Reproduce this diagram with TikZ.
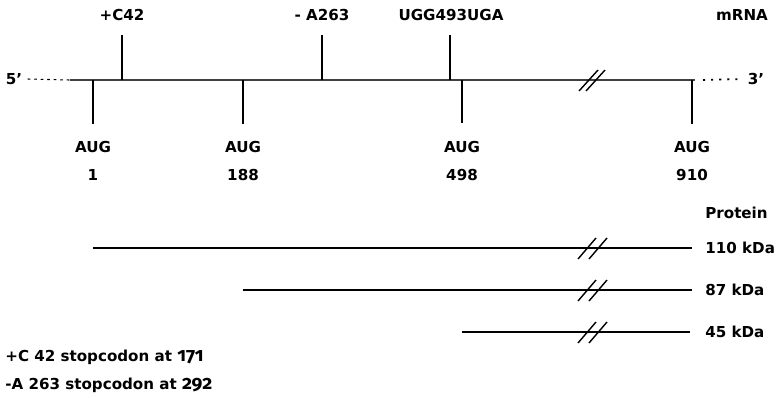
\documentclass[tikz,border=0pt]{standalone}
\usepackage{fontspec}
\setmainfont{DejaVu Sans}
\newfontfamily\oldfig{Fira Sans}[Numbers=OldStyle]
\usetikzlibrary{positioning, calc}

\begin{document}
\begin{tikzpicture}[x=0.02cm, y=-0.02cm,
    lbl/.style={inner sep=0pt, font=\fontsize{8.6}{10}\selectfont\bfseries},
    rna/.style={draw=black!75, line width=0.6pt},
    tick/.style={draw=black, line width=1.1pt},
    prot/.style={draw=black, line width=0.7pt},
    brk/.style={draw=black, line width=0.8pt}]
    \useasboundingbox (0,0) rectangle (776,397);

    % mRNA line
    \node [lbl] (five) at (14,79) {5'};
    \node [lbl] (three) at (756,79) {3'};
    \node [lbl] (mrna) at (742,15) {mRNA};
    \coordinate (r0) at (70,80);
    \coordinate (r1) at (695,80);
    \draw [rna, draw=black, dash pattern=on 1.5pt off 2.2pt] (five.east) ++(3pt,0) -- (r0);
    \draw [rna] (r0) -- (r1);
    \draw [draw=black, line width=1pt, dash pattern=on 1.2pt off 3.4pt] (r1) ++(8,0) -- ($(three.west)+(-3pt,0)$);
    \draw [brk] (579,91) -- (598,70);
    \draw [brk] (586,91) -- (605,70);

    % Mutations
    \node [lbl] (c42) at (122,15) {+C42};
    \node [lbl] (a263) at (322,15) {- A263};
    \node [lbl] (ugg) at (451,15) {UGG493UGA};
    \draw [tick] (122,80) coordinate (t1) -- (122,35);
    \draw [tick] (322,80) coordinate (t2) -- (322,35);
    \draw [tick] (450,80) coordinate (t3) -- (450,35);

    % Start codons
    \node [lbl] (aug1) at (93,147) {AUG};
    \node [lbl] (aug2) at (243,147) {AUG};
    \node [lbl] (aug3) at (462,147) {AUG};
    \node [lbl] (aug4) at (692,147) {AUG};
    \node [lbl] (n1) at (93,175) {1};
    \node [lbl] (n2) at (243,175) {188};
    \node [lbl] (n3) at (462,175) {498};
    \node [lbl] (n4) at (692,175) {910};
    \draw [tick] (93,80) -- (93,124);
    \draw [tick] (243,80) -- (243,124);
    \draw [tick] (462,80) -- (462,123);
    \draw [tick] (692,80) -- (692,124);

    % Proteins
    \node [lbl, anchor=west] (prot) at (705,213) {Protein};
    \node [lbl, anchor=west] (p110) at (705,248) {110 kDa};
    \node [lbl, anchor=west] (p87) at (705,290) {87 kDa};
    \node [lbl, anchor=west] (p45) at (705,332) {45 kDa};
    \draw [prot] (93,248) -- (692,248);
    \draw [prot] (243,290) -- (692,290);
    \draw [prot] (462,332) -- (690,332);
    \foreach \y in {248,290,332} {
        \draw [brk] (578,\y+11) -- (596,\y-10);
        \draw [brk] (589,\y+11) -- (607,\y-10);
    }

    % Notes
    \node [lbl, anchor=west] (note1) at (5,357) {+C 42 stopcodon at {\oldfig\fontsize{11}{12}\selectfont\bfseries 171}};
    \node [lbl, anchor=west] (note2) at (5,385) {-A 263 stopcodon at {\oldfig\fontsize{11}{12}\selectfont\bfseries 292}};
\end{tikzpicture}
\end{document}
